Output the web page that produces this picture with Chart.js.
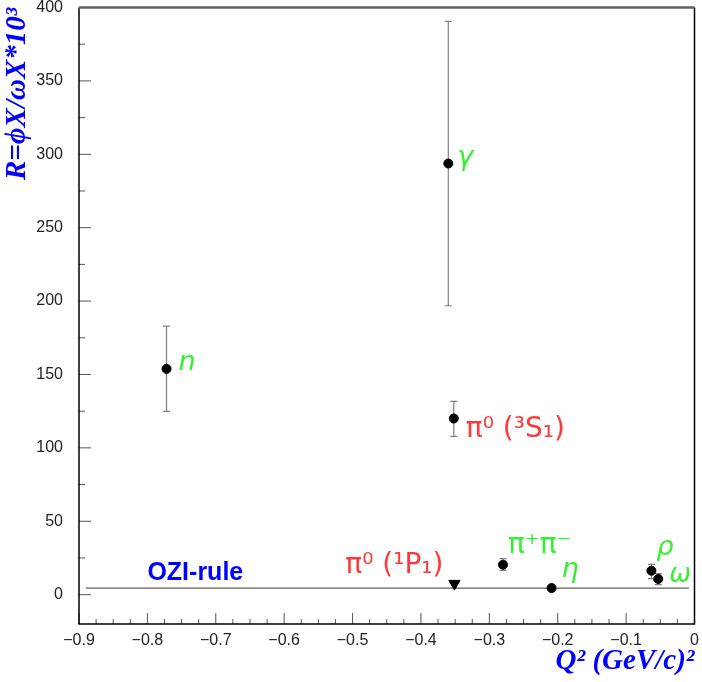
<!DOCTYPE html>
<html>
<head>
<meta charset="utf-8">
<script src="https://cdn.jsdelivr.net/npm/chart.js@4/dist/chart.umd.min.js"></script>
<style>
  body { margin: 0; background: #fff; }
  #wrap { width: 702px; height: 682px; }
</style>
</head>
<body>
<div id="wrap"><canvas id="chart" width="702" height="682"></canvas></div>
<script>
// measured points (Q^2, R*10^3)
const pointX = [-0.772, -0.360, -0.352, -0.280, -0.209, -0.063, -0.053];
const pointY = [153.8, 293.7, 120.0, 20.4, 4.5, 16.3, 10.7];
const errLow = [124.8, 196.8, 107.8, 16.5, 4.5, 10.9, 6.8];
const errHigh = [183.0, 390.5, 131.6, 24.5, 4.5, 20.6, 14.3];
const pointLabels = ['n', 'γ', 'π⁰ (³S₁)', 'π⁺π⁻', 'η', 'ρ', 'ω'];

// upper limit (triangle)
const limitX = [-0.351];
const limitY = [7.5];
const limitLabels = ['π⁰ (¹P₁)'];

// OZI rule prediction
const oziX = [-0.89, -0.008];
const oziY = [4.5, 4.5];

const xTickValues = [-0.9, -0.8, -0.7, -0.6, -0.5, -0.4, -0.3, -0.2, -0.1, 0];
const yTickValues = [0, 50, 100, 150, 200, 250, 300, 350, 400];

const GREEN = '#33f033';
const RED = '#ff3838';

// label placement relative to the marker (px), kept apart from data
const labelStyle = {
    'n':        { dx: 12, dy: 1,   color: GREEN, font: 'italic 27px "DejaVu Sans"' },
    'γ':        { dx: 9,  dy: 1,   color: GREEN, font: 'italic 27px "DejaVu Sans"' },
    'π⁰ (³S₁)': { dx: 12, dy: 18,  color: RED,   font: '28px "DejaVu Sans"' },
    'π⁺π⁻':     { dx: 5,  dy: -12, color: GREEN, font: '28px "DejaVu Sans"' },
    'η':        { dx: 10, dy: -11, color: GREEN, font: 'italic 27px "DejaVu Sans"' },
    'ρ':        { dx: 5,  dy: -16, color: GREEN, font: 'italic 27px "DejaVu Sans"' },
    'ω':        { dx: 11, dy: 3,   color: GREEN, font: 'italic 26px "DejaVu Sans"' },
    'π⁰ (¹P₁)': { dx: -11, dy: -11, color: RED,  font: '28px "DejaVu Sans"', align: 'right' },
};

const near = (v, arr) => arr.some(t => Math.abs(t - v) < 1e-6);
const fmtX = v => (Math.abs(v) < 1e-9 ? '0' : '\u2212' + Math.abs(v).toFixed(1));

const errorBars = {
    id: 'errorBars',
    beforeDatasetsDraw(chart) {
        const { ctx, scales: { x, y } } = chart;
        ctx.save();
        ctx.strokeStyle = '#808080';
        ctx.lineWidth = 1.2;
        pointX.forEach((qx, i) => {
            if (errHigh[i] - errLow[i] < 0.5) return;
            const px = x.getPixelForValue(qx);
            const y1 = y.getPixelForValue(errLow[i]);
            const y2 = y.getPixelForValue(errHigh[i]);
            ctx.beginPath();
            ctx.moveTo(px, y1); ctx.lineTo(px, y2);
            ctx.moveTo(px - 3.5, y1); ctx.lineTo(px + 3.5, y1);
            ctx.moveTo(px - 3.5, y2); ctx.lineTo(px + 3.5, y2);
            ctx.stroke();
        });
        ctx.restore();
    }
};

const frameAndLabels = {
    id: 'frameAndLabels',
    afterDraw(chart) {
        const { ctx, chartArea: a, scales: { x, y } } = chart;
        ctx.save();
        // inner ticks
        ctx.strokeStyle = '#555';
        ctx.lineWidth = 1;
        ctx.beginPath();
        x.ticks.forEach(t => {
            const major = near(t.value, xTickValues);
            const px = x.getPixelForValue(t.value);
            ctx.moveTo(px, a.bottom);
            ctx.lineTo(px, a.bottom - (major ? 11 : 5));
        });
        y.ticks.forEach(t => {
            if (t.value < 0 || t.value % 25 !== 0) return;
            const major = t.value % 50 === 0;
            const py = y.getPixelForValue(t.value);
            ctx.moveTo(a.left, py);
            ctx.lineTo(a.left + (major ? 12 : 6), py);
        });
        ctx.stroke();

        // frame
        ctx.strokeStyle = '#000';
        ctx.lineWidth = 1.5;
        ctx.beginPath();
        ctx.moveTo(a.left, a.top); ctx.lineTo(a.left, a.bottom); ctx.lineTo(a.right, a.bottom); ctx.lineTo(a.right, a.top);
        ctx.stroke();
        ctx.strokeStyle = '#606060';
        ctx.lineWidth = 2.5;
        ctx.beginPath();
        ctx.moveTo(a.left, a.top); ctx.lineTo(a.right, a.top);
        ctx.stroke();

        // point labels
        const put = (text, qx, qy) => {
            const s = labelStyle[text];
            ctx.font = s.font;
            ctx.fillStyle = s.color;
            ctx.textAlign = s.align || 'left';
            ctx.textBaseline = 'alphabetic';
            ctx.fillText(text, x.getPixelForValue(qx) + s.dx, y.getPixelForValue(qy) + s.dy);
        };
        pointLabels.forEach((t, i) => put(t, pointX[i], pointY[i]));
        limitLabels.forEach((t, i) => put(t, limitX[i], limitY[i]));

        // OZI line caption
        ctx.font = 'bold 25px "Liberation Sans"';
        ctx.fillStyle = '#0000ff';
        ctx.textAlign = 'left';
        ctx.fillText('OZI-rule', x.getPixelForValue(-0.8), y.getPixelForValue(oziY[0]) - 8);
        ctx.restore();
    }
};

new Chart(document.getElementById('chart'), {
    type: 'scatter',
    data: {
        datasets: [
            {
                label: 'measured',
                data: pointX.map((v, i) => ({ x: v, y: pointY[i] })),
                backgroundColor: '#000',
                borderColor: '#000',
                pointRadius: 4.5,
                pointHoverRadius: 4.5,
            },
            {
                label: 'upper limit',
                data: limitX.map((v, i) => ({ x: v, y: limitY[i] })),
                pointStyle: 'triangle',
                rotation: 180,
                backgroundColor: '#000',
                borderColor: '#000',
                pointRadius: 6.5,
            },
            {
                type: 'line',
                label: 'OZI',
                data: oziX.map((v, i) => ({ x: v, y: oziY[i] })),
                borderColor: '#606060',
                borderWidth: 1.2,
                pointRadius: 0,
                fill: false,
            }
        ]
    },
    options: {
        responsive: false,
        animation: false,
        layout: { padding: { top: 7, right: 7, left: 0, bottom: 0 } },
        plugins: { legend: { display: false }, tooltip: { enabled: false } },
        scales: {
            x: {
                type: 'linear',
                min: -0.9,
                max: 0,
                grid: { display: false, drawTicks: false },
                border: { display: false },
                ticks: {
                    stepSize: 0.025,
                    autoSkip: false,
                    maxRotation: 0,
                    padding: 7,
                    color: '#222',
                    font: { family: '"Liberation Sans"', size: 16 },
                    callback: v => (near(v, xTickValues) ? fmtX(v) : '')
                },
                title: {
                    display: true,
                    text: 'Q² (GeV/c)²',
                    align: 'end',
                    color: '#0000ff',
                    font: { family: '"Liberation Serif"', size: 29, style: 'italic', weight: 'bold' },
                    padding: { top: 0, bottom: 3 }
                },
                afterFit: s => { s.height = 58; s.paddingLeft = 0; s.paddingRight = 0; }
            },
            y: {
                type: 'linear',
                min: -20,
                max: 400,
                grid: { display: false, drawTicks: false },
                border: { display: false },
                ticks: {
                    stepSize: 25,
                    autoSkip: false,
                    padding: 16,
                    color: '#222',
                    font: { family: '"Liberation Sans"', size: 16 },
                    callback: v => (near(v, yTickValues) ? String(v) : '')
                },
                title: {
                    display: true,
                    text: 'R=ϕX/ωX*10³',
                    align: 'end',
                    color: '#0000ff',
                    font: { family: '"Liberation Serif"', size: 29, style: 'italic', weight: 'bold' },
                    padding: { top: 0, bottom: 0 }
                },
                afterFit: s => { s.width = 79; s.paddingTop = 0; s.paddingBottom = 0; }
            }
        }
    },
    plugins: [errorBars, frameAndLabels]
});
</script>
</body>
</html>
